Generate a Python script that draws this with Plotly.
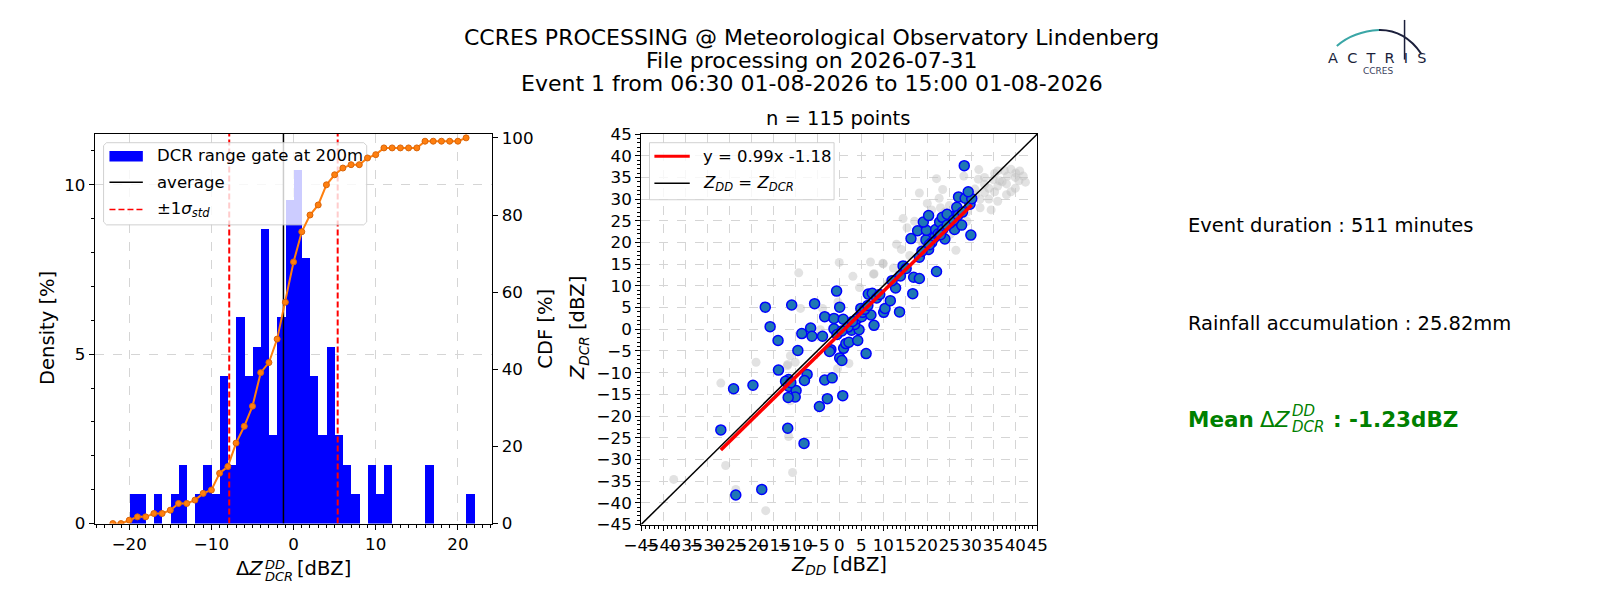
import numpy as np
import plotly.graph_objects as go

W, H = 1600, 600

# ---- histogram of dZ = Z_DCR - Z_DD (1 dBZ bins, left edges) ----
bin_left = list(range(-22, 22))
bin_count = [0, 0, 1, 1, 0, 1, 0, 1, 2, 0, 1, 2, 1, 5, 2, 7, 5, 6, 10, 3, 7, 11,
             12, 9, 5, 3, 6, 3, 2, 1, 0, 2, 1, 2, 0, 0, 0, 0, 2, 0, 0, 0, 0, 1]
n_points = 115
mean_dz = -1.23
std_dz = 6.6

# ---- scatter Z_DD vs Z_DCR ----
fit_slope = 0.99
fit_intercept = -1.18

zdd_blue = [-26.9, -23.5, -17.6, -24.0, -19.6, -11.7, -8.0, -16.8, -15.7, -13.9,
            -13.8, -10.8, -11.5, -11.4, -9.8, -10.0, -11.6, -9.4, -8.5, -6.5,
            -6.2, -7.3, -7.9, -5.6, -3.8, -3.3, -1.2, 0.9, -1.2, -3.3,
            -1.6, -2.7, -4.5, 0.8, -1.9, -2.2, 0.1, 0.6, 1.0, 1.5,
            2.2, 4.2, 2.8, 4.5, 3.5, 4.0, 5.1, 5.3, 4.9, 6.1,
            7.2, 7.9, -0.6, 0.1, 6.6, 7.5, 10.1, 10.4, 11.6, 13.7,
            12.8, 16.7, 13.9, 14.5, 16.9, 18.2, 22.1, 18.2, 20.3, 16.3,
            19.7, 21.7, 24.0, 29.9, 17.8, 19.8, 21.9, 26.2, 19.1, 22.8,
            25.2, 27.8, 20.3, 23.4, 25.6, 24.5, 26.7, 29.7, 27.1, 28.6,
            30.1, 29.3, 28.4, 2.0, 3.0, 5.8, 6.5, 8.5, 9.2, -0.5,
            0.6, -12.2, -11.0, 21.0, 22.5, 23.5, 24.5, 26.0, 27.0, 28.0,
            23.0, 20.5, 18.8, 15.2, 12.0]
zdcr_blue = [-23.2, -38.2, -36.9, -13.7, -12.9, -22.8, -26.3, 5.1, 0.6, -2.6,
             -9.4, 5.6, -11.6, -13.2, -14.1, -15.6, -15.7, -4.9, -1.0, 0.3,
             -1.6, -10.4, -11.8, 5.9, -1.6, 2.9, 2.5, 2.3, 0.1, -11.7,
             -11.2, -16.0, -17.8, -15.3, -4.7, -5.1, -6.6, -7.2, -4.4, -3.3,
             -3.0, -2.6, -0.2, -0.1, 1.1, 2.4, 2.9, 3.9, 4.8, -5.6,
             3.3, 0.9, 8.8, 5.1, 8.1, 8.3, 3.9, 4.8, 6.6, 4.0,
             9.5, 8.2, 12.3, 14.6, 12.0, 11.7, 13.3, 16.6, 18.4, 20.9,
             20.6, 21.2, 20.8, 21.7, 22.7, 22.8, 23.0, 23.0, 24.7, 24.7,
             24.5, 24.0, 26.2, 25.8, 26.0, 26.5, 28.1, 28.8, 30.5, 30.2,
             30.1, 31.7, 37.7, 0.5, 1.8, 4.6, 5.5, 7.2, 8.0, -1.2,
             -0.4, -12.0, -12.3, 20.0, 22.0, 23.0, 24.0, 25.2, 26.3, 27.0,
             21.8, 19.5, 18.0, 14.0, 11.2]

zdd_gray = [-37.6, -26.9, -25.8, -23.5, -16.7, -18.9, -11.8, -10.6, -11.5, -11.1,
            -10.0, -11.1, -9.2, 0.0, 3.1, 7.1, 7.9, 9.9, 4.6, -8.8,
            -3.8, -11.7, 2.2, -0.4, -4.3, -0.3, 31.7, 35.3, 37.5, 39.0,
            40.1, 41.8, 42.3, 39.0, 35.3, 34.5, 31.6, 33.0, 36.4, 38.2,
            40.8, 22.1, 18.2, 23.5, 22.7, 28.3, 30.8, 14.5, 17.1, 13.0,
            14.1, 26.5, 10.0, 7.8, 12.3, 29.0, 25.2, 15.4, 18.6, 32.0,
            33.0, 34.0, 36.0, 37.0, 38.0, 35.0, 30.0, 31.0, 33.0, 36.0,
            40.0, 34.0, 32.0, 29.0, 27.0, 26.0, 25.0, 24.0, 23.0, 21.0,
            20.0, 36.0, 38.0, 40.0, 41.0, 16.0, 19.0, 21.5, 24.5, 11.0]
zdcr_gray = [-34.6, -12.4, -31.4, -36.9, -41.8, -7.6, -8.4, -33.0, -24.7, -6.1,
             -7.6, -16.5, 13.0, 15.4, 12.2, 15.5, 12.8, 15.2, 9.6, 4.8,
             4.8, -8.1, -7.9, -9.1, -0.1, 6.3, 36.8, 35.9, 36.6, 36.9,
             36.0, 35.3, 33.9, 31.7, 31.7, 27.5, 34.6, 33.4, 34.2, 35.3,
             34.2, 34.7, 31.4, 32.2, 30.2, 35.3, 32.3, 25.5, 24.9, 19.6,
             18.4, 18.2, 15.1, 12.7, 14.1, 24.9, 21.9, 23.4, 20.4, 30.0,
             31.5, 32.5, 33.0, 34.0, 33.5, 34.5, 29.0, 31.0, 35.0, 36.5,
             35.0, 30.0, 28.0, 27.0, 29.0, 27.0, 28.5, 27.0, 28.0, 27.5,
             29.0, 29.5, 31.0, 32.5, 36.5, 17.0, 19.5, 22.5, 25.5, 10.5]

# histogram axes geometry (pixels)
HX0, HX1, HY0, HY1 = 70, 475, 120, 523
HXR = [-24.2, 24.2]
HYR = [0, 11.5]


def px(x):
    return x / W


def py(y):
    return 1 - y / H


def hx(p):
    # pixel -> histogram data x
    return HXR[0] + (p - HX0) / (HX1 - HX0) * (HXR[1] - HXR[0])


def hy(p):
    return HYR[0] + (HY1 - p) / (HY1 - HY0) * (HYR[1] - HYR[0])


axis_common = dict(showline=True, mirror=True, linecolor='black', linewidth=1,
                   ticks='outside', ticklen=5, tickcolor='black', zeroline=False,
                   tickfont=dict(size=16.7))
grid = dict(showgrid=True, gridcolor='#d5d5d5', griddash='dash', gridwidth=1)

fig = go.Figure()

# histogram panel
centers = [b + 0.5 for b in bin_left]
density = [c / n_points * 100 for c in bin_count]
fig.add_trace(go.Bar(x=centers, y=density, width=1, marker=dict(color='blue', line=dict(width=0)),
                     showlegend=False, xaxis='x', yaxis='y'))
fig.add_trace(go.Scatter(x=[mean_dz, mean_dz], y=HYR, mode='lines',
                         line=dict(color='black', width=1.5), showlegend=False,
                         xaxis='x', yaxis='y'))
lo, hi = mean_dz - std_dz, mean_dz + std_dz
fig.add_trace(go.Scatter(x=[lo, lo, None, hi, hi], y=[0, 11.5, None, 0, 11.5], mode='lines',
                         line=dict(color='red', width=2, dash='6px,3px'), showlegend=False,
                         xaxis='x', yaxis='y'))
# legend box of the histogram: sits above bars and lines, under the CDF (twin axis)
bx = [79, 347]
by = [129, 214]
c = 3
box_px = [(bx[0] + c, by[0]), (bx[1] - c, by[0]), (bx[1], by[0] + c), (bx[1], by[1] - c),
          (bx[1] - c, by[1]), (bx[0] + c, by[1]), (bx[0], by[1] - c), (bx[0], by[0] + c),
          (bx[0] + c, by[0])]
fig.add_trace(go.Scatter(x=[hx(p[0]) for p in box_px], y=[hy(p[1]) for p in box_px],
                         mode='lines', fill='toself', fillcolor='rgba(255,255,255,0.8)',
                         line=dict(color='rgba(204,204,204,0.9)', width=1),
                         showlegend=False, hoverinfo='skip', xaxis='x', yaxis='y'))
cdf = np.cumsum(bin_count) / n_points * 100
fig.add_trace(go.Scatter(x=bin_left, y=cdf, mode='lines+markers',
                         line=dict(color='#ff7f0e', width=2),
                         marker=dict(size=6, color='#ff7f0e', line=dict(color='#d9650a', width=1)),
                         showlegend=False, xaxis='x', yaxis='y2'))

# scatter panel
fig.add_trace(go.Scatter(x=zdd_gray, y=zdcr_gray, mode='markers',
                         marker=dict(size=9, color='rgba(190,190,190,0.45)', line=dict(width=0)),
                         showlegend=False, xaxis='x3', yaxis='y3'))
fig.add_trace(go.Scatter(x=zdd_blue, y=zdcr_blue, mode='markers',
                         marker=dict(size=10, color='#1f77b4', line=dict(color='blue', width=1.5)),
                         showlegend=False, xaxis='x3', yaxis='y3'))
fx = [min(zdd_blue), max(zdd_blue)]
fig.add_trace(go.Scatter(x=fx, y=[fit_slope * v + fit_intercept for v in fx], mode='lines',
                         line=dict(color='red', width=3.5), showlegend=False,
                         xaxis='x3', yaxis='y3'))
fig.add_trace(go.Scatter(x=[-45, 45], y=[-45, 45], mode='lines',
                         line=dict(color='black', width=1.5), showlegend=False,
                         xaxis='x3', yaxis='y3'))

minor1 = dict(ticks='outside', ticklen=3, tickcolor='black', dtick=1, showgrid=False)

black = dict(size=19.5, color='black')
small = dict(size=13, color='black')
title_font = dict(size=22, color='black')
green = dict(size=21.5, color='green')
green_small = dict(size=15, color='green')
leg = dict(size=16.5, color='black')

annotations = [
    dict(x=0.5, y=py(20.5), text='CCRES PROCESSING @ Meteorological Observatory Lindenberg',
         font=title_font),
    dict(x=0.5, y=py(44), text='File processing on 2026-07-31', font=title_font),
    dict(x=0.5, y=py(67.5), text='Event 1 from 06:30 01-08-2026 to 15:00 01-08-2026',
         font=title_font),
    dict(x=px(827), y=py(104), text='n = 115 points'),
    dict(x=px(22), y=py(321), text='Density [%]', textangle=-90),
    dict(x=px(529), y=py(321), text='CDF [%]', textangle=-90),
    # histogram x label with stacked super/subscript
    dict(x=px(243), y=py(569), text='Δ<i>Z</i>', xanchor='right'),
    dict(x=px(241), y=py(565), text='<i>DD</i>', xanchor='left', font=small),
    dict(x=px(241), y=py(578), text='<i>DCR</i>', xanchor='left', font=small),
    dict(x=px(274), y=py(569), text='[dBZ]', xanchor='left'),
    dict(x=px(563), y=py(321), text='<i>Z</i><sub><i>DCR</i></sub> [dBZ]', textangle=-90),
    dict(x=px(828), y=py(566), text='<i>Z</i><sub><i>DD</i></sub> [dBZ]'),
    dict(x=px(1181), y=py(215), text='Event duration : 511 minutes', xanchor='left'),
    dict(x=px(1181), y=py(316), text='Rainfall accumulation : 25.82mm', xanchor='left'),
    dict(x=px(1181), y=py(415), text='<b>Mean</b>', xanchor='left', font=green),
    dict(x=px(1290), y=py(415), text='Δ<i>Z</i>', xanchor='right', font=green),
    dict(x=px(1287), y=py(407), text='<i>DD</i>', xanchor='left', font=green_small),
    dict(x=px(1287), y=py(423), text='<i>DCR</i>', xanchor='left', font=green_small),
    dict(x=px(1329), y=py(415), text='<b>: -1.23dBZ</b>', xanchor='left', font=green),
    # histogram legend texts
    dict(x=px(131), y=py(142), text='DCR range gate at 200m', xanchor='left', font=leg),
    dict(x=px(131), y=py(170), text='average', xanchor='left', font=leg),
    dict(x=px(131), y=py(198), text='±1<i>σ</i><sub><i>std</i></sub>', xanchor='left', font=leg),
    # scatter legend texts
    dict(x=px(687), y=py(143), text='y = %.2fx %.2f' % (fit_slope, fit_intercept),
         xanchor='left', font=leg),
    dict(x=px(687), y=py(171),
         text='<i>Z</i><sub><i>DD</i></sub> = <i>Z</i><sub><i>DCR</i></sub>',
         xanchor='left', font=leg),
    # logo
    dict(x=px(1376), y=py(41), text='A  C  T  R  I  S', font=dict(size=14.5, color='#1b1f3b')),
    dict(x=px(1377), y=py(55), text='CCRES', font=dict(size=9, color='#3a3f5c')),
]
for a in annotations:
    a.setdefault('xref', 'paper')
    a.setdefault('yref', 'paper')
    a.setdefault('showarrow', False)
    a.setdefault('xanchor', 'center')
    a.setdefault('yanchor', 'middle')
    a.setdefault('font', black)


def pline(x0, x1, y, color, width, dash='solid'):
    return dict(type='line', xref='paper', yref='paper', layer='above',
                x0=px(x0), x1=px(x1), y0=py(y), y1=py(y),
                line=dict(color=color, width=width, dash=dash))


shapes = [
    # histogram legend handles
    dict(type='rect', xref='paper', yref='paper', layer='above',
         x0=px(85), x1=px(119), y0=py(148.5), y1=py(137.5),
         fillcolor='blue', line=dict(width=0)),
    pline(85, 119, 170, 'black', 1.5),
    pline(85, 119, 198, 'red', 1.5, '6px,3px'),
    # scatter legend box and handles
    dict(type='rect', xref='paper', yref='paper', layer='above',
         x0=px(635), x1=px(823), y0=py(188), y1=py(129),
         fillcolor='rgba(255,255,255,0.8)', line=dict(color='rgba(204,204,204,0.9)', width=1)),
    pline(640, 676, 143, 'red', 3),
    pline(640, 676, 171, 'black', 1.5),
    # logo
    dict(type='path', xref='paper', yref='paper',
         path='M %f,%f Q %f,%f %f,%f' % (px(1335), py(29), px(1352), py(14), px(1378), py(12.5)),
         line=dict(color='#3aa6a6', width=2)),
    dict(type='path', xref='paper', yref='paper',
         path='M %f,%f Q %f,%f %f,%f' % (px(1378), py(12.5), px(1404), py(12), px(1421), py(37)),
         line=dict(color='#1b1f3b', width=2)),
    dict(type='line', xref='paper', yref='paper', x0=px(1404), x1=px(1404), y0=py(2), y1=py(43),
         line=dict(color='#1b1f3b', width=1.5)),
]

fig.update_layout(
    width=W, height=H,
    margin=dict(l=0, r=0, t=0, b=0),
    paper_bgcolor='white', plot_bgcolor='white',
    font=dict(family='DejaVu Sans', size=16, color='black'),
    bargap=0,
    showlegend=False,
    xaxis=dict(domain=[px(HX0), px(HX1)], range=HXR, dtick=10, tick0=0, anchor='y',
               minor=minor1, **axis_common, **grid),
    yaxis=dict(domain=[py(HY1), py(HY0)], range=HYR, dtick=5, anchor='x',
               minor=minor1, **axis_common, **grid),
    yaxis2=dict(overlaying='y', side='right', anchor='x', range=[0, 101], dtick=20,
                showgrid=False, showline=True, linecolor='black', ticks='outside', ticklen=5,
                tickcolor='black', zeroline=False, tickfont=dict(size=16.7)),
    xaxis3=dict(domain=[px(626.5), px(1030)], range=[-45, 45], dtick=5, tick0=0, anchor='y3',
                tickangle=0, minor=minor1, **axis_common, **grid),
    yaxis3=dict(domain=[py(524), py(120)], range=[-45, 45], dtick=5, tick0=0, anchor='x3',
                minor=minor1, **axis_common, **grid),
    annotations=annotations,
    shapes=shapes,
)

fig.write_html("out.html")
